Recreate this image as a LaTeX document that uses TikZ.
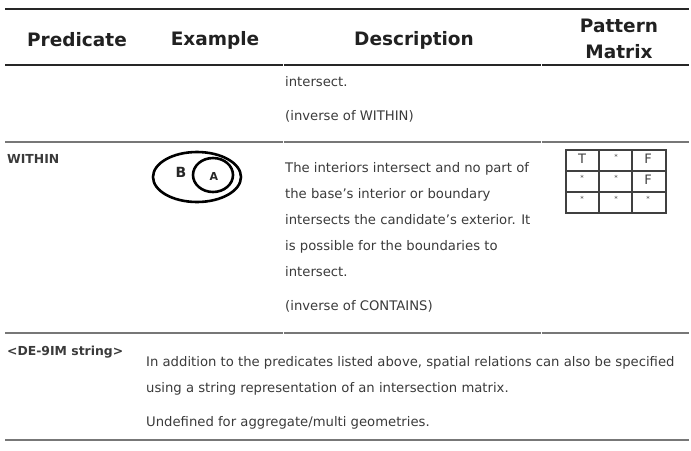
\documentclass[tikz,border=0pt]{standalone}
\usepackage{fontspec}
\setmainfont{DejaVu Sans}
\usepackage{tikz}
\usetikzlibrary{positioning}
\definecolor{rulegray}{HTML}{777777}
\definecolor{bodygray}{HTML}{3A3A3A}

\begin{document}
\begin{tikzpicture}[x=1pt, y=-1pt,
  headtext/.style={font=\fontsize{18.5}{25.5}\selectfont\bfseries, text=black!87, align=center, inner sep=0pt},
  bodytext/.style={font=\fontsize{13.2}{15}\selectfont, text=bodygray, anchor=west, inner sep=0pt, text height=9.5pt, text depth=2.7pt},
  predtext/.style={font=\fontsize{12.4}{14}\selectfont\bfseries, text=bodygray, anchor=west, inner sep=0pt},
  darkrule/.style={line width=2.5pt, draw=black!85},
  greyrule/.style={line width=2.5pt, draw=rulegray},
  mline/.style={line width=1.4pt, draw=black!75},
  mcell/.style={font=\fontsize{13}{13}\selectfont, text=black!75, inner sep=0pt},
  mstar/.style={font=\fontsize{7}{7}\selectfont, text=black!75, inner sep=0pt}]
\useasboundingbox (0,0) rectangle (691,450);

% table rules
\draw[darkrule] (5,9) -- (689,9);
\draw[darkrule] (5,65) -- (282.5,65) (283.5,65) -- (540.5,65) (541.5,65) -- (689,65);
\draw[greyrule] (5,142) -- (282.5,142) (283.5,142) -- (540.5,142) (541.5,142) -- (689,142);
\draw[greyrule] (5,333) -- (282.5,333) (283.5,333) -- (540.5,333) (541.5,333) -- (689,333);
\draw[greyrule] (5,440) -- (689,440);

% header
\node[headtext] (hpred) at (77,40) {Predicate};
\node[headtext] (hexample) at (215,40) {Example};
\node[headtext] (hdesc) at (414,40) {Description};
\node[headtext] (hpattern) at (619,39) {Pattern\\Matrix};

% row before WITHIN
\node[bodytext] (prev1) at (285,83) {intersect.};
\node[bodytext] (prev2) at (285,117) {(inverse of WITHIN)};

% WITHIN
\node[predtext] (within) at (7,159) {WITHIN};
\draw[line width=2.6pt] (197,177) ellipse [x radius=44pt, y radius=25pt];
\draw[line width=2.6pt] (213,175) ellipse [x radius=20pt, y radius=17pt];
\node[font=\fontsize{14}{14}\selectfont\bfseries, text=black!85, inner sep=0pt] (setb) at (181,172) {B};
\node[font=\fontsize{11}{11}\selectfont\bfseries, text=black!85, inner sep=0pt] (seta) at (214,176) {A};
\node[bodytext] (wdesc1) at (285,169) {The interiors intersect and no part of};
\node[bodytext] (wdesc2) at (285,195) {the base's interior or boundary};
\node[bodytext] (wdesc3) at (285,221) {intersects the candidate's exterior. It};
\node[bodytext] (wdesc4) at (285,247) {is possible for the boundaries to};
\node[bodytext] (wdesc5) at (285,273) {intersect.};
\node[bodytext] (wdesc6) at (285,307) {(inverse of CONTAINS)};
% pattern matrix
\draw[mline] (566,150) rectangle (666,213);
\foreach \mx in {599,632} \draw[mline] (\mx,150) -- (\mx,213);
\foreach \my in {171,192} \draw[mline] (566,\my) -- (666,\my);
\node[mcell] (m11) at (582,159) {T};
\node[mstar] (m12) at (616,157) {*};
\node[mcell] (m13) at (648,159) {F};
\node[mstar] (m21) at (582,178) {*};
\node[mstar] (m22) at (616,178) {*};
\node[mcell] (m23) at (648,180) {F};
\node[mstar] (m31) at (582,199) {*};
\node[mstar] (m32) at (616,199) {*};
\node[mstar] (m33) at (648,199) {*};

% DE-9IM string
\node[predtext] (de9im) at (7,352) {<DE-9IM string>};
\node[bodytext] (sdesc1) at (146,363) {In addition to the predicates listed above, spatial relations can also be specified};
\node[bodytext] (sdesc2) at (146,389) {using a string representation of an intersection matrix.};
\node[bodytext] (sdesc3) at (146,423) {Undefined for aggregate/multi geometries.};
\end{tikzpicture}
\end{document}
